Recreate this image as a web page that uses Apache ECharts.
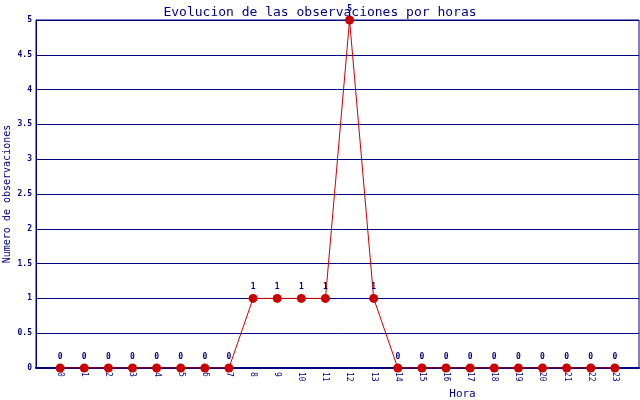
<!DOCTYPE html>
<html><head><meta charset="utf-8">
<script src="https://cdn.jsdelivr.net/npm/echarts@6/dist/echarts.min.js"></script>
<style>html,body{margin:0;padding:0;background:#fff}#c{width:640px;height:400px}</style>
</head><body><div id="c"></div>
<script>
var hours = [0,1,2,3,4,5,6,7,8,9,10,11,12,13,14,15,16,17,18,19,20,21,22,23];
var counts = [0,0,0,0,0,0,0,0,1,1,1,1,5,1,0,0,0,0,0,0,0,0,0,0];
var yTicks = [0,0.5,1,1.5,2,2.5,3,3.5,4,4.5,5];
var titleText = 'Evolucion de las observaciones por horas';
var xName = 'Hora';
var yName = 'Numero de observaciones';

var navy = '#000080';
var font = 'DejaVu Sans Mono';
var chart = echarts.init(document.getElementById('c'));
chart.setOption({
  animation: false,
  backgroundColor: '#fff',
  title: { text: titleText, left: 'center', top: 1, textStyle: { color: navy, fontFamily: font, fontSize: 13, fontWeight: 'normal' } },
  grid: { left: 36, right: 1, top: 20, bottom: 32, containLabel: false, outerBoundsMode: 'none', show: true, borderColor: navy, borderWidth: 1 },
  xAxis: {
    type: 'value', min: -1, max: 24, interval: 1,
    name: xName, nameLocation: 'middle', nameGap: 21, nameMoveOverlap: false,
    nameTextStyle: { color: navy, fontFamily: font, fontSize: 11, padding: [0,0,0,250] },
    axisLine: { onZero: false, lineStyle: { color: navy, width: 2 } },
    axisTick: { show: false },
    splitLine: { show: false },
    axisLabel: { color: navy, fontFamily: font, fontSize: 8, rotate: -90, margin: 4,
      formatter: function (v) { return (v < 0 || v > 23) ? '' : String(v); } }
  },
  yAxis: {
    type: 'value', min: 0, max: 5, interval: 0.5,
    name: yName, nameLocation: 'middle', nameGap: 24, nameRotate: 90, nameMoveOverlap: false,
    nameTextStyle: { color: navy, fontFamily: font, fontSize: 10 },
    axisLine: { show: true, onZero: false, lineStyle: { color: navy, width: 1 } },
    axisTick: { show: false },
    splitLine: { lineStyle: { color: navy, width: 1 } },
    axisLabel: { color: navy, fontFamily: font, fontSize: 8, fontWeight: 'bold', margin: 4,
      formatter: function (v) { return String(v); } }
  },
  series: [{
    type: 'line',
    data: hours.map(function (h, i) { return [h, counts[i]]; }),
    lineStyle: { color: '#cc0000', width: 1 },
    itemStyle: { color: '#cc0000' },
    symbol: 'circle', symbolSize: 9,
    label: { show: true, position: 'top', distance: 3, color: navy, fontFamily: font, fontSize: 8, fontWeight: 'bold',
      formatter: function (p) { return String(p.value[1]); } }
  }]
});
</script></body></html>
